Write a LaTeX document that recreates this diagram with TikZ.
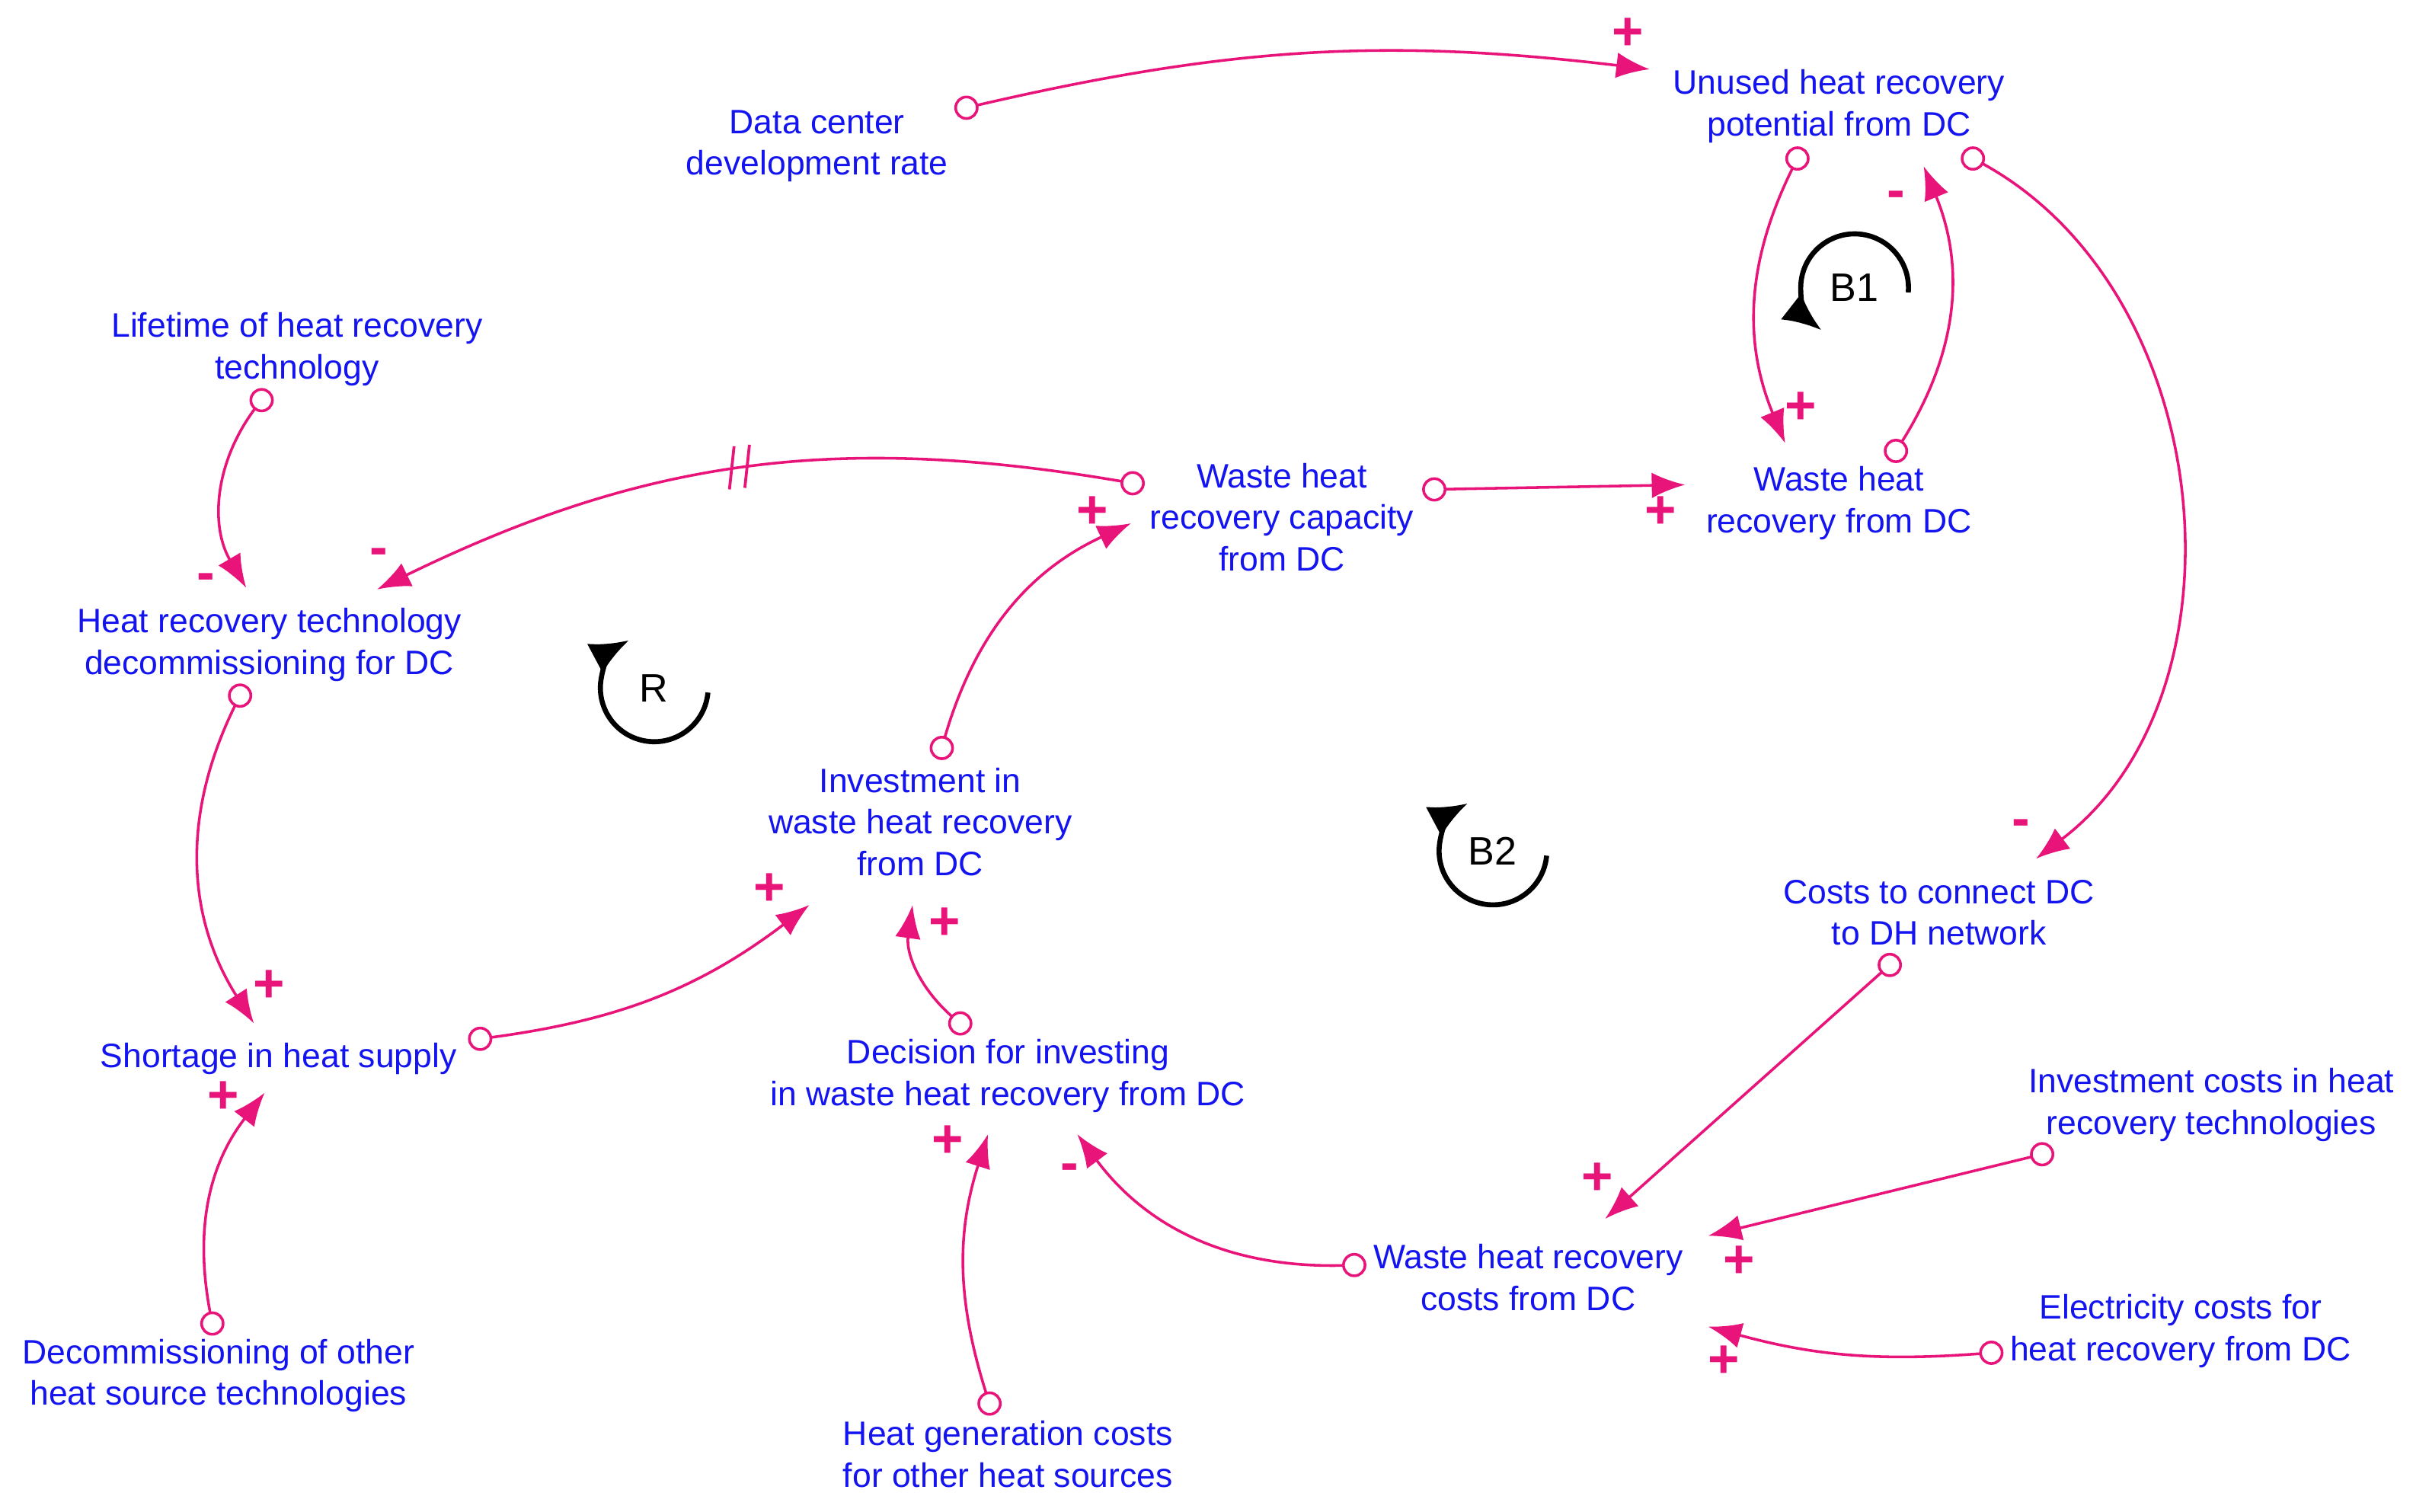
\documentclass[tikz,border=0pt]{standalone}
\usepackage{fontspec}
\setmainfont{Liberation Sans}
\usetikzlibrary{arrows.meta}
\definecolor{lk}{RGB}{232,20,122}
\definecolor{tx}{RGB}{20,20,240}
\begin{document}
\begin{tikzpicture}[x=0.03cm,y=0.03cm,
 v/.style={text=tx,align=center,font=\fontsize{18.8}{23}\selectfont,inner sep=0pt},
 lnk/.style={draw=lk,line width=1.5pt,-{Latex[length=0.65cm,width=0.5cm]}},
 st/.style={draw=lk,line width=1.5pt,fill=white},
 pol/.style={text=lk,font=\fontsize{30}{30}\selectfont\bfseries,inner sep=0pt},
 lp/.style={line width=2.8pt,-{Latex[length=0.75cm,width=0.65cm]}},
 lt/.style={font=\fontsize{22}{24}\selectfont,inner sep=0pt}]
\useasboundingbox (0,0) rectangle (1568,-982);
\node[v] (dcr) at (531,-95) {Data center\\development rate};
\node[v] (unu) at (1195,-69) {Unused heat recovery\\potential from DC};
\node[v] (lif) at (193,-227) {Lifetime of heat recovery\\technology};
\node[v] (cap) at (833,-336) {Waste heat\\recovery capacity\\from DC};
\node[v] (rec) at (1195,-327) {Waste heat\\recovery from DC};
\node[v] (dec) at (175,-419) {Heat recovery technology\\decommissioning for DC};
\node[v] (inv) at (598,-534) {Investment in\\waste heat recovery\\from DC};
\node[v] (con) at (1260,-593) {Costs to connect DC\\to DH network};
\node[v] (sho) at (181,-688) {Shortage in heat supply};
\node[v] (dsn) at (655,-699) {Decision for investing\\in waste heat recovery from DC};
\node[v] (ivc) at (1437,-718) {Investment costs in heat\\recovery technologies};
\node[v] (whc) at (993,-830) {Waste heat recovery\\costs from DC};
\node[v] (ele) at (1417,-865) {Electricity costs for\\heat recovery from DC};
\node[v] (doh) at (142,-894) {Decommissioning of other\\heat source technologies};
\node[v] (hgc) at (655,-945) {Heat generation costs\\for other heat sources};
% endpoints
\foreach \n/\x/\y in {s1/628/70,e1/1072/45, s2/1168/103,e2/1160/288, s3/1232/293,e3/1250/108,
 s4/1282/103,e4/1323/558, s5/170/260,e5/160/382, s6/736/314,e6/245/383, s7/932/318,e7/1095/315,
 s8/612/486,e8/735/340, s9/156/452,e9/165/665, s10/312/675,e10/526/588, s11/624/665,e11/593/588,
 s12/138/860,e12/172/710, s13/643/912,e13/642/737, s14/880/822,e14/700/737, s15/1228/627,e15/1043/792,
 s16/1327/750,e16/1110/803, s17/1294/879,e17/1110/862}
 \coordinate (\n) at (\x,-\y);
\draw[lnk] (s1) to[bend left=10] (e1);
\draw[lnk] (s2) to[bend right=25] (e2);
\draw[lnk] (s3) to[bend right=28] (e3);
\draw[lnk] (s4) to[bend left=58] (e4);
\draw[lnk] (s5) to[bend right=35] (e5);
\draw[lnk] (s6) to[bend right=18] (e6);
\draw[lnk] (s7) -- (e7);
\draw[lnk] (s8) to[bend left=25] (e8);
\draw[lnk] (s9) to[bend right=30] (e9);
\draw[lnk] (s10) to[bend right=15] (e10);
\draw[lnk] (s11) to[bend left=30] (e11);
\draw[lnk] (s12) to[bend left=25] (e12);
\draw[lnk] (s13) to[bend left=18] (e13);
\draw[lnk] (s14) to[bend left=28] (e14);
\draw[lnk] (s15) -- (e15);
\draw[lnk] (s16) -- (e16);
\draw[lnk] (s17) to[bend left=10] (e17);
\foreach \s in {s1,s2,s3,s4,s5,s6,s7,s8,s9,s10,s11,s12,s13,s14,s15,s16,s17}
 \draw[st] (\s) circle (7);
% delay mark
\draw[lk,line width=1.6pt] (477,-290) -- (474,-318) (487,-289) -- (484,-317);
% polarities
\foreach \p/\x/\y in {+/1058/22,+/1170/265,-/1232/130,-/1313/538,-/134/378,-/246/362,+/1079/333,
 +/710/333,+/175/641,+/500/578,+/614/600,+/145/713,+/616/742,-/695/762,+/1038/766,+/1130/820,+/1120/885}
 \node[pol] at (\x,-\y) {\p};
% loops
\node[lt] (b1) at (1205,-187) {B1};
\draw[lp] (1240,-190) arc[start angle=-5,end angle=232,radius=35];
\node[lt] (r) at (425,-447) {R};
\draw[lp] (460,-450) arc[start angle=-5,end angle=-242,radius=35];
\node[lt] (b2) at (970,-553) {B2};
\draw[lp] (1005,-556) arc[start angle=-5,end angle=-242,radius=35];
\end{tikzpicture}
\end{document}
